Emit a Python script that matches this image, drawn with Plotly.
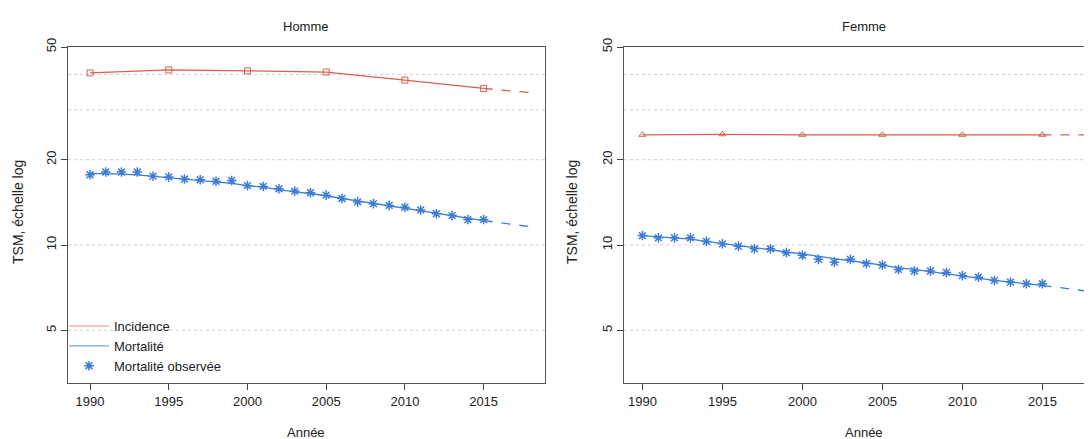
import plotly.graph_objects as go

years = list(range(1990, 2016))
inc_years = [1990, 1995, 2000, 2005, 2010, 2015]
proj_years = [2015, 2018]

# Homme
h_inc = [40.5, 41.5, 41.2, 40.8, 38.2, 35.7]
h_inc_proj = [35.7, 34.5]
h_mort_obs = [17.7, 18.1, 18.1, 18.1, 17.5, 17.4, 17.1, 17.0, 16.8, 16.9, 16.2, 16.1, 15.8,
              15.5, 15.3, 15.0, 14.6, 14.2, 14.0, 13.8, 13.6, 13.3, 12.9, 12.7, 12.3, 12.3]
h_mort_fit = [17.9, 17.9, 17.8, 17.7, 17.5, 17.3, 17.1, 16.9, 16.7, 16.5, 16.2, 16.0, 15.7,
              15.4, 15.2, 14.9, 14.6, 14.3, 14.0, 13.7, 13.5, 13.2, 12.9, 12.7, 12.4, 12.2]
h_mort_proj = [12.2, 11.6]

# Femme
f_inc = [24.5, 24.6, 24.5, 24.5, 24.5, 24.5]
f_inc_proj = [24.5, 24.5]
f_mort_obs = [10.8, 10.6, 10.6, 10.6, 10.3, 10.1, 9.9, 9.7, 9.7, 9.4, 9.2, 8.9, 8.7,
              8.9, 8.6, 8.5, 8.2, 8.1, 8.1, 8.0, 7.8, 7.7, 7.5, 7.4, 7.3, 7.3]
f_mort_fit = [10.8, 10.7, 10.6, 10.5, 10.3, 10.1, 9.95, 9.8, 9.6, 9.45, 9.3, 9.1, 8.95,
              8.8, 8.65, 8.5, 8.3, 8.2, 8.05, 7.9, 7.8, 7.65, 7.5, 7.4, 7.3, 7.2]
f_mort_proj = [7.2, 6.85]

RED = "#d6604d"
BLUE = "#3b7dd8"
FONT = "Liberation Sans"
W, H, OFF = 1092, 439, 8  # page body margin offset

fig = go.Figure()


def add_panel(col, inc, inc_proj, obs, fit, proj, symbol, legend):
    xa = "x" if col == 1 else "x2"
    ya = "y" if col == 1 else "y2"
    fig.add_trace(go.Scatter(x=inc_years, y=inc, mode="lines+markers", xaxis=xa, yaxis=ya,
                             line=dict(color=RED, width=1.3),
                             marker=dict(symbol=symbol, size=6, color=RED, line=dict(color=RED, width=1)),
                             name="Incidence", showlegend=False))
    fig.add_trace(go.Scatter(x=proj_years, y=inc_proj, mode="lines", xaxis=xa, yaxis=ya,
                             line=dict(color=RED, width=1.3, dash="dash"), showlegend=False))
    fig.add_trace(go.Scatter(x=years, y=fit, mode="lines", xaxis=xa, yaxis=ya,
                             line=dict(color=BLUE, width=1.3), showlegend=False))
    fig.add_trace(go.Scatter(x=proj_years, y=proj, mode="lines", xaxis=xa, yaxis=ya,
                             line=dict(color=BLUE, width=1.3, dash="dash"), showlegend=False))
    fig.add_trace(go.Scatter(x=years, y=obs, mode="markers", xaxis=xa, yaxis=ya,
                             marker=dict(symbol="asterisk-open", size=8, color=BLUE,
                                         line=dict(color=BLUE, width=1.5)),
                             showlegend=False))
    if legend:
        fig.add_trace(go.Scatter(x=[None], y=[None], mode="lines", name="Incidence",
                                 line=dict(color="#f4c4bd", width=2)))
        fig.add_trace(go.Scatter(x=[None], y=[None], mode="lines", name="Mortalité",
                                 line=dict(color="#7aa6e6", width=1.2)))
        fig.add_trace(go.Scatter(x=[None], y=[None], mode="markers", name="Mortalité observée",
                                 marker=dict(symbol="asterisk-open", size=8, color=BLUE,
                                             line=dict(color=BLUE, width=1.5))))


add_panel(1, h_inc, h_inc_proj, h_mort_obs, h_mort_fit, h_mort_proj, "square-open", True)
add_panel(2, f_inc, f_inc_proj, f_mort_obs, f_mort_fit, f_mort_proj, "triangle-up-open", False)

xcommon = dict(tickvals=[1990, 1995, 2000, 2005, 2010, 2015], ticks="outside", ticklen=6,
               tickcolor="#444", showgrid=False, zeroline=False, showline=True, linecolor="#555",
               linewidth=1, mirror=True, tickfont=dict(size=13, color="#222"), automargin=False)
ycommon = dict(type="log", range=[0.513, 1.699], tickvals=[5, 10, 20, 50], ticktext=["5", "10", "20", "50"],
               tickangle=-90, ticks="outside", ticklen=6, tickcolor="#444",
               showgrid=False, zeroline=False, showline=True, linecolor="#555", linewidth=1, mirror=True,
               tickfont=dict(size=13, color="#222"), automargin=False)


def px(p):
    return (p - OFF) / W


def py(p):
    return 1 - (p - OFF) / H


fig.update_layout(
    width=W, height=H, margin=dict(l=0, r=0, t=0, b=0, autoexpand=False),
    paper_bgcolor="white", plot_bgcolor="white",
    font=dict(family=FONT, color="#222"),
    xaxis=dict(domain=[px(68), px(545)], range=[1988.6, 2018.9], **xcommon),
    xaxis2=dict(domain=[px(624), 1.0], range=[1988.85, 2018.6], **xcommon),
    yaxis=dict(domain=[py(383), py(47)], anchor="x", **ycommon),
    yaxis2=dict(domain=[py(383), py(47)], anchor="x2", **ycommon),
    legend=dict(x=px(64), y=py(311), xanchor="left", yanchor="top", bgcolor="rgba(0,0,0,0)",
                font=dict(size=13, color="#222"), tracegroupgap=0, itemwidth=40),
)

# dotted horizontal reference lines
for xr in ["x", "x2"]:
    for v in [5, 10, 20, 30, 40]:
        fig.add_shape(type="line", xref=xr + " domain", yref="y" if xr == "x" else "y2",
                      x0=0, x1=1, y0=v, y1=v, line=dict(color="#d0d0d0", width=1, dash="dot"),
                      layer="below")

ann = [
    dict(text="Homme", x=306, y=27), dict(text="Femme", x=864, y=27),
    dict(text="Année", x=306, y=432), dict(text="Année", x=864, y=432),
]
for a in ann:
    fig.add_annotation(text=a["text"], xref="paper", yref="paper", x=px(a["x"]), y=py(a["y"]),
                       xanchor="center", yanchor="middle",
                       showarrow=False, font=dict(size=13, color="#222"))
for xp in [18, 572]:
    fig.add_annotation(text="TSM, échelle log", xref="paper", yref="paper", x=px(xp), y=py(212),
                       xanchor="center", yanchor="middle",
                       showarrow=False, textangle=-90, font=dict(size=14, color="#222"))

fig.write_html("out.html")
